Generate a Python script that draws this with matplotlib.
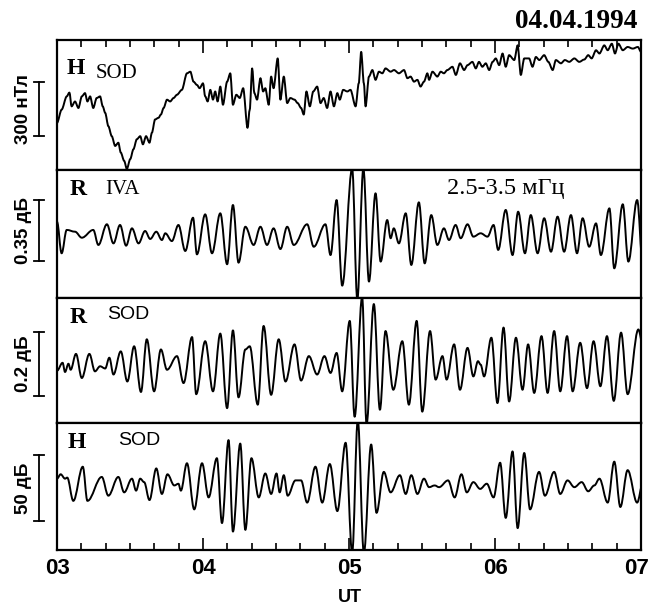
import numpy as np
import matplotlib
matplotlib.use("Agg")
import matplotlib.pyplot as plt
from matplotlib.ticker import MultipleLocator, FixedLocator
from matplotlib.path import Path
from matplotlib.patches import PathPatch
from matplotlib.transforms import ScaledTranslation

# time in minutes after 03:00 UT
h_top_min = [0, 1.9, 4.0, 5.1, 6.0, 7.4, 8.8, 10.2, 11.5, 12.5,
             13.6, 14.9, 16.3, 17.7, 18.8, 19.8, 21.1, 22.5, 23.9, 25.2,
             26.2, 27.6, 28.7, 30.1, 31.4, 32.8, 34.2, 35.3, 36.6, 38.0,
             39.0, 40.3, 41.7, 42.7, 43.8, 45.2, 46.5, 47.9, 49.3, 51.3,
             53.4, 54.8, 56.1, 57.5, 58.6, 60.0, 60.9, 61.9, 63.0, 64.1,
             65.0, 66.0, 67.1, 68.2, 69.9, 71.2, 72.3, 73.7, 75.1, 76.5,
             78.3, 79.2, 80.2, 81.1, 82.2, 83.6, 84.7, 85.6, 87.0, 88.0,
             89.0, 90.7, 91.8, 93.2, 94.6, 95.9, 97.6, 98.9, 100.3, 101.4,
             102.5, 103.9, 105.3, 106.9, 108.3, 109.6, 111.0, 112.4, 113.8, 115.2,
             116.2, 117.6, 119.3, 120.6, 122.7, 124.0, 125.0, 126.1, 126.8, 128.2,
             129.6, 130.9, 132.3, 133.7, 135.0, 137.1, 138.5, 140.5, 142.6, 144.0,
             145.3, 146.7, 148.1, 149.4, 150.8, 152.2, 152.9, 154.3, 156.3, 157.7,
             159.0, 160.4, 162.5, 163.9, 165.6, 167.3, 168.7, 170.7, 172.1, 173.4,
             174.8, 176.2, 177.6, 179.0, 180.3, 181.7, 183.1, 184.4, 185.8, 187.9,
             189.3, 190.6, 192.0, 194.0, 195.4, 196.8, 198.2, 200.2, 201.9, 203.7,
             205.0, 207.1, 208.7, 210.5, 212.6, 214.6, 216.7, 218.3, 219.7, 221.5,
             222.9, 224.9, 226.3, 228.0, 229.3, 230.7, 232.5, 234.5, 236.6, 238.7,
             240.0]
h_top_nt = [254, 327, 400, 421, 345, 372, 336, 400, 418, 372,
            400, 336, 391, 400, 345, 309, 236, 181, 127, 145,
            91, 45, 0, 55, 109, 164, 181, 136, 181, 145,
            200, 273, 282, 300, 336, 382, 372, 391, 409, 436,
            527, 536, 481, 463, 445, 472, 400, 372, 436, 382,
            427, 372, 454, 354, 481, 527, 354, 409, 391, 445,
            227, 327, 554, 418, 382, 500, 427, 445, 354, 509,
            445, 609, 382, 509, 363, 391, 382, 363, 336, 300,
            427, 345, 427, 454, 363, 391, 336, 427, 345, 418,
            382, 436, 427, 436, 345, 472, 645, 472, 345, 509,
            545, 491, 536, 527, 554, 536, 545, 527, 545, 500,
            509, 481, 491, 454, 481, 527, 491, 536, 509, 536,
            527, 545, 563, 518, 582, 545, 572, 590, 554, 590,
            563, 582, 545, 590, 609, 572, 636, 563, 627, 600,
            681, 518, 609, 609, 563, 617, 600, 627, 590, 545,
            600, 582, 600, 590, 609, 590, 603, 627, 609, 654,
            636, 681, 654, 690, 636, 690, 654, 672, 663, 672,
            645]

r_iva_min = [0, 1.9, 4.0, 7.4, 10.2, 14.9, 17.0, 20.5, 23.2, 25.9,
             28.4, 30.8, 33.5, 36.2, 38.3, 40.8, 43.1, 44.5, 47.2, 49.9,
             52.7, 55.9, 57.5, 60.9, 63.7, 67.1, 69.9, 72.3, 74.6, 77.4,
             80.8, 83.6, 86.3, 89.0, 91.8, 94.6, 97.3, 102.8, 105.5, 110.3,
             112.4, 114.9, 117.2, 121.3, 123.4, 125.9, 128.2, 130.9, 133.0, 135.7,
             137.1, 138.4, 140.5, 143.3, 145.6, 148.7, 151.1, 153.8, 156.3, 159.0,
             161.1, 163.8, 165.9, 168.7, 171.1, 174.1, 176.9, 179.4, 181.3, 184.4,
             187.2, 189.5, 192.3, 194.7, 197.5, 200.2, 203.0, 205.7, 208.4, 211.2,
             213.7, 216.0, 218.7, 221.5, 223.5, 227.0, 229.0, 232.5, 234.8, 238.4,
             240.7]
r_iva_db = [0.069, -0.109, 0.023, 0.013, -0.021, 0.023, -0.062, 0.055, -0.053, 0.051,
            -0.066, 0.032, -0.053, 0.017, -0.028, 0.013, -0.034, 0.004, -0.040, 0.051,
            -0.096, 0.092, -0.115, 0.111, -0.109, 0.117, -0.171, 0.164, -0.162, 0.041,
            -0.062, 0.041, -0.062, 0.032, -0.085, 0.041, -0.062, 0.055, -0.072, 0.055,
            -0.119, 0.192, -0.292, 0.37, -0.37, 0.37, -0.269, 0.230, -0.156, 0.079,
            -0.024, 0.032, -0.053, 0.117, -0.175, 0.179, -0.166, 0.107, -0.062, 0.032,
            -0.034, 0.051, -0.024, 0.055, -0.015, 0.004, -0.015, 0.051, -0.090, 0.136,
            -0.119, 0.126, -0.109, 0.107, -0.109, 0.089, -0.100, 0.098, -0.100, 0.107,
            -0.109, 0.089, -0.072, 0.060, -0.119, 0.145, -0.194, 0.168, -0.156, 0.192,
            -0.166]

r_sod_min = [0, 2.3, 3.3, 4.7, 5.6, 7.8, 10.2, 13.3, 15.6, 17.7,
             19.8, 21.5, 23.2, 26.2, 28.9, 31.7, 34.5, 36.9, 39.9, 42.7,
             45.2, 49.3, 52.0, 55.5, 57.2, 60.9, 64.1, 67.1, 69.9, 72.3,
             74.6, 77.4, 79.2, 82.5, 84.9, 88.0, 91.1, 93.9, 97.6, 100.3,
             103.5, 106.9, 109.9, 112.4, 114.9, 117.2, 120.3, 122.3, 125.4, 127.2,
             130.2, 132.7, 135.0, 138.2, 141.9, 144.6, 147.8, 150.1, 153.3, 155.6,
             158.4, 160.1, 163.2, 165.6, 168.7, 171.1, 173.0, 174.1, 175.5, 178.5,
             181.0, 183.5, 185.8, 188.6, 191.3, 193.6, 196.1, 199.1, 201.6, 204.3,
             206.8, 209.6, 211.9, 215.0, 217.8, 220.5, 223.3, 226.0, 228.8, 231.8,
             234.5, 238.9, 240.7]
r_sod_db = [-0.032, -0.007, -0.036, -0.010, -0.029, 0.021, -0.055, 0.021, -0.034, -0.018,
            -0.025, 0.009, -0.044, 0.029, -0.066, 0.045, -0.099, 0.067, -0.097, 0.035,
            -0.029, 0.014, -0.071, 0.074, -0.106, 0.061, -0.097, 0.085, -0.150, 0.095,
            -0.116, 0.035, 0.045, -0.139, 0.109, -0.108, 0.067, -0.066, 0.051, -0.063,
            0.014, -0.044, 0.014, -0.039, 0.024, -0.097, 0.125, -0.177, 0.20, -0.20,
            0.178, -0.155, 0.093, -0.092, 0.061, -0.139, 0.125, -0.161, 0.093, -0.060,
            0.014, -0.060, 0.051, -0.092, 0.040, -0.050, -0.002, -0.013, -0.050, 0.072,
            -0.134, 0.104, -0.129, 0.072, -0.092, 0.051, -0.102, 0.077, -0.102, 0.093,
            -0.097, 0.077, -0.097, 0.056, -0.087, 0.061, -0.081, 0.077, -0.127, 0.088,
            -0.106, 0.098, 0.051]

h_sod_min = [0, 1.5, 3.3, 4.2, 6.7, 10.6, 12.5, 18.4, 21.1, 25.2,
             27.6, 30.8, 32.5, 34.2, 35.8, 38.0, 40.8, 43.1, 45.4, 48.2,
             49.9, 50.9, 53.4, 56.4, 59.6, 62.3, 65.7, 67.8, 70.5, 72.3,
             75.3, 77.4, 79.9, 82.9, 85.6, 88.0, 90.2, 91.5, 93.2, 94.8,
             98.0, 100.3, 102.8, 106.2, 109.0, 112.1, 115.2, 118.6, 121.3, 123.6,
             126.1, 129.1, 131.3, 134.3, 137.1, 140.9, 143.3, 145.6, 148.1, 150.8,
             152.9, 155.2, 157.0, 160.7, 163.4, 166.2, 168.4, 171.1, 173.9, 176.6,
             179.4, 182.1, 184.4, 187.2, 189.3, 192.0, 194.4, 198.1, 200.5, 204.3,
             206.8, 209.8, 212.6, 215.6, 218.3, 220.8, 222.9, 226.3, 229.0, 231.5,
             234.5, 238.4, 240.7]
h_sod_val = [5.9, 9.2, 5.9, 6.7, -10.8, 14.9, -10.8, 7.2, -6.9, 7.2,
             -4.4, 5.9, -3.1, 5.9, 3.3, -10.2, 13.6, -5.6, 9.2, 0.8,
             2.1, -3.1, 17.5, -17.2, 17.5, -8.2, 21.3, -27.5, 34.9, -33.9,
             32.3, -32.6, 21.3, -8.2, 9.8, -5.6, 9.8, -4.4, 8.5, -6.9,
             4.6, 4.6, -12.1, 14.9, -12.1, 16.9, -18.5, 32.9, -50, 50,
             -50, 31.6, -19.8, 11.0, -4.4, 8.5, -5.6, 8.5, -5.6, 5.9,
             -0.5, 0.8, -0.5, 4.6, -8.2, 9.2, -4.4, 3.3, -1.8, 2.1,
             -8.2, 17.9, -23.6, 26.4, -31.3, 25.2, -17.2, 11.0, -6.9, 11.0,
             -5.6, 4.6, -0.5, 3.3, -3.6, 0.8, 5.9, -12.1, 18.7, -15.4,
             12.3, -12.1, 2.1]

hour_labels = ["03", "04", "05", "06", "07"]
scale_labels = ["300 нТл", "0.35 дБ", "0.2 дБ", "50 дБ"]
scale_sizes = [300, 0.35, 0.2, 50]
scale_starts = [180, -0.155, -0.111, -26]

panels = [
    (h_top_min, h_top_nt, (-5, 710)),
    (r_iva_min, r_iva_db, (-0.362, 0.362)),
    (r_sod_min, r_sod_db, (-0.197, 0.197)),
    (h_sod_min, h_sod_val, (-47.7, 47.7)),
]


def smooth_trace(ax, t, v, frac=0.36):
    # cubic segments with flat tangents at every read point
    verts = [(t[0], v[0])]
    codes = [Path.MOVETO]
    for k in range(1, len(t)):
        d = t[k] - t[k - 1]
        verts += [(t[k - 1] + frac * d, v[k - 1]), (t[k] - frac * d, v[k]),
                  (t[k], v[k])]
        codes += [Path.CURVE4] * 3
    ax.add_patch(PathPatch(Path(verts, codes), fill=False, ec="black",
                           lw=1.4, joinstyle="round", capstyle="round"))


fig = plt.figure(figsize=(6.5, 6.07), dpi=100)
bounds = [(0.934, 0.720), (0.720, 0.509), (0.509, 0.303), (0.303, 0.094)]
axes = []
for i, (tm, vals, ylim) in enumerate(panels):
    top, bot = bounds[i]
    ax = fig.add_axes([0.0877, bot, 0.8985, top - bot])
    t = 3 + np.array(tm) / 60.0
    smooth_trace(ax, t, vals, frac=0.3 if i == 0 else 0.36)
    ax.set_xlim(3, 7)
    ax.set_ylim(*ylim)
    ax.set_yticks([])
    for s in ax.spines.values():
        s.set_linewidth(1.6)
    ax.xaxis.set_major_locator(FixedLocator([3, 4, 5, 6, 7]))
    ax.xaxis.set_minor_locator(MultipleLocator(1 / 6))
    ax.tick_params(axis="x", which="both", direction="in", bottom=False,
                   top=False, labelbottom=False, width=1.2)
    ax.tick_params(axis="x", which="major", length=9)
    ax.tick_params(axis="x", which="minor", length=5)

    # scale bar to the left of the panel
    tr = ax.get_yaxis_transform()
    y0 = scale_starts[i]
    y1 = y0 + scale_sizes[i]
    ax.plot([-0.031, -0.031], [y0, y1], color="black", lw=1.3,
            transform=tr, clip_on=False)
    for yy in (y0, y1):
        ax.plot([-0.040, -0.022], [yy, yy], color="black", lw=1.3,
                transform=tr, clip_on=False)
    ax.text(-0.058, (y0 + y1) / 2, scale_labels[i], transform=tr,
            rotation=90, ha="center", va="center", fontsize=13.5,
            fontweight="bold", family="Liberation Sans")
    axes.append(ax)

axes[0].tick_params(axis="x", which="both", top=True)
axes[-1].tick_params(axis="x", which="both", bottom=True, labelbottom=True,
                     pad=6)
axes[-1].set_xticklabels(hour_labels, fontsize=16, fontweight="bold",
                         family="Liberation Sans")
last = axes[-1].get_xticklabels()[-1]
last.set_transform(last.get_transform()
                   + ScaledTranslation(-4 / 100, 0, fig.dpi_scale_trans))

serif = "Liberation Serif"
sans = "Liberation Sans"
axes[0].text(0.017, 0.78, "H", transform=axes[0].transAxes, fontsize=17,
             fontweight="bold", family=serif, va="center")
axes[0].text(0.066, 0.745, "SOD", transform=axes[0].transAxes, fontsize=15,
             family=serif, va="center")
axes[1].text(0.022, 0.845, "R", transform=axes[1].transAxes, fontsize=17,
             fontweight="bold", family=serif, va="center")
axes[1].text(0.082, 0.845, "IVA", transform=axes[1].transAxes, fontsize=15,
             family=serif, va="center")
axes[1].text(0.668, 0.855, "2.5-3.5 мГц", transform=axes[1].transAxes,
             fontsize=17.5, family=serif, va="center")
axes[2].text(0.022, 0.845, "R", transform=axes[2].transAxes, fontsize=17,
             fontweight="bold", family=serif, va="center")
axes[2].text(0.085, 0.865, "SOD", transform=axes[2].transAxes, fontsize=14,
             family=sans, va="center")
axes[3].text(0.018, 0.845, "H", transform=axes[3].transAxes, fontsize=17,
             fontweight="bold", family=serif, va="center")
axes[3].text(0.105, 0.86, "SOD", transform=axes[3].transAxes, fontsize=14,
             family=sans, va="center")

fig.text(0.792, 0.965, "04.04.1994", fontsize=19.5, fontweight="bold",
         family=serif, va="center")
fig.text(0.538, 0.015, "UT", fontsize=13, fontweight="bold", family=sans,
         ha="center", va="center")

fig.savefig("out.png", dpi=100)
